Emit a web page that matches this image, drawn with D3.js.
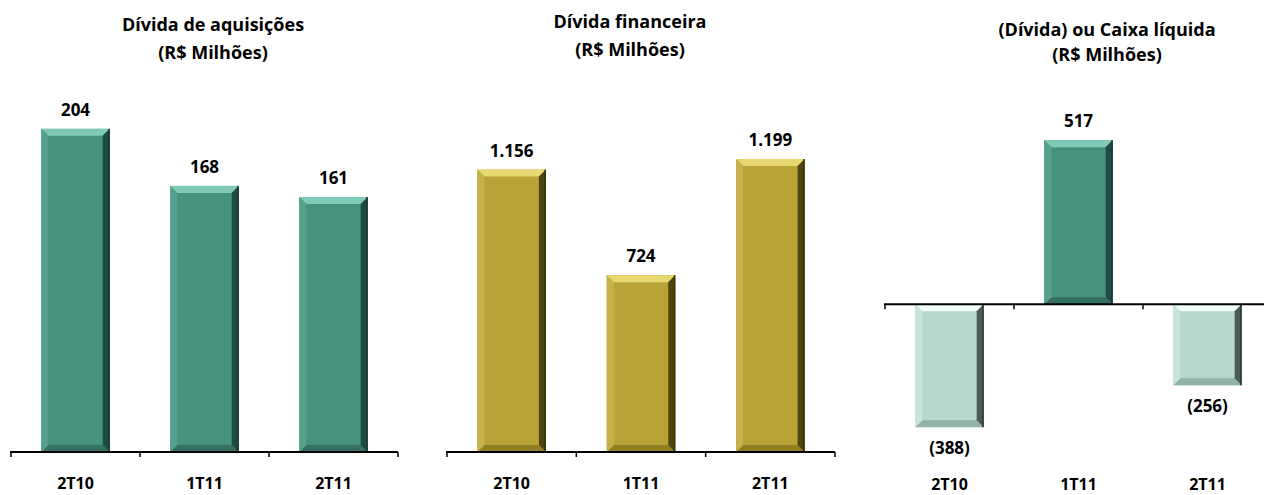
<!DOCTYPE html>
<html>
<head>
<meta charset="utf-8">
<script src="https://cdn.jsdelivr.net/npm/d3@7"></script>
<style>
  body { margin: 0; background: #fff; }
  text { font-family: "Open Sans", "DejaVu Sans", sans-serif; font-weight: bold; fill: #000; }
</style>
</head>
<body>
<div id="container"></div>
<script>
let w = 1264;
let h = 495;

// data
let categories = ["2T10", "1T11", "2T11"];
let acquisitionDebt = [204, 168, 161];
let financialDebt = [1156, 724, 1199];
let netCash = [-388, 517, -256];

let titles = [
  ["Dívida de aquisições", "(R$ Milhões)"],
  ["Dívida financeira", "(R$ Milhões)"],
  ["(Dívida) ou Caixa líquida", "(R$ Milhões)"]
];

let fmtLocale = d3.formatLocale({ decimal: ",", thousands: ".", grouping: [3], currency: ["R$", ""] });
let fmt = fmtLocale.format(",d");
function label(v) {
  return v < 0 ? "(" + fmt(-v) + ")" : fmt(v);
}

let palettes = {
  teal: { main: "#47917f", top: "#80c9b7", left: "#58a08e", right: "#1e4c42", bottom: "#367062", edge: "#163830" },
  gold: { main: "#b9a336", top: "#e8d872", left: "#c6b24a", right: "#4d4412", bottom: "#917f24", edge: "#38310b" },
  mint: { main: "#b6d8ce", top: "#effdf9", left: "#c8e4dc", right: "#4a5c53", bottom: "#91b2a7", edge: "#2c3833" }
};

let viz = d3.select("#container").append("svg")
  .attr("width", w)
  .attr("height", h);

let panels = [
  { values: acquisitionDebt, x0: 11, x1: 398, domain: [0, 250], range: [452, 56],
    title: titles[0], titleX: 213, titleY: [31, 59], catY: 489, color: function(){ return "teal"; } },
  { values: financialDebt, x0: 447, x1: 835, domain: [0, 1400], range: [452, 110],
    title: titles[1], titleX: 630, titleY: [28, 56], catY: 489, color: function(){ return "gold"; } },
  { values: netCash, x0: 885, x1: 1272, domain: [-400, 600], range: [431, 114],
    title: titles[2], titleX: 1107, titleY: [36, 61], catY: 490, color: function(v){ return v < 0 ? "mint" : "teal"; } }
];

function drawBar(g, x, y, bw, bh, pal) {
  let b = Math.min(7, bh / 3);
  let x1 = x + bw, y1 = y + bh;
  let pts = function(a){ return a.map(function(p){ return p.join(","); }).join(" "); };
  g.append("rect").attr("x", x).attr("y", y).attr("width", bw).attr("height", bh).attr("fill", pal.main);
  g.append("polygon").attr("points", pts([[x, y], [x1, y], [x1 - b, y + b], [x + b, y + b]])).attr("fill", pal.top);
  g.append("polygon").attr("points", pts([[x, y1], [x1, y1], [x1 - b, y1 - b], [x + b, y1 - b]])).attr("fill", pal.bottom);
  g.append("polygon").attr("points", pts([[x, y], [x + b, y + b], [x + b, y1 - b], [x, y1]])).attr("fill", pal.left);
  g.append("polygon").attr("points", pts([[x1, y], [x1 - b, y + b], [x1 - b, y1 - b], [x1, y1]])).attr("fill", pal.right);
  g.append("rect").attr("x", x1 - 1.5).attr("y", y).attr("width", 1.5).attr("height", bh).attr("fill", pal.edge);
}

panels.forEach(function(p) {
  let g = viz.append("g").attr("class", "panel");

  let xScale = d3.scaleBand().domain(categories).range([p.x0, p.x1])
    .paddingInner(0.47).paddingOuter(0.235);
  let yScale = d3.scaleLinear().domain(p.domain).range(p.range);
  let zero = yScale(0);

  // title
  p.title.forEach(function(t, i) {
    g.append("text").attr("x", p.titleX).attr("y", p.titleY[i])
      .attr("text-anchor", "middle").style("font-size", "18px").text(t);
  });

  // bars
  p.values.forEach(function(v, i) {
    let c = categories[i];
    let top = Math.min(yScale(v), zero);
    let bh = Math.abs(yScale(v) - zero);
    drawBar(g, xScale(c), top, xScale.bandwidth(), bh, palettes[p.color(v)]);
    let cx = xScale(c) + xScale.bandwidth() / 2;
    g.append("text").attr("x", cx)
      .attr("y", v >= 0 ? yScale(v) - 13 : yScale(v) + 27)
      .attr("text-anchor", "middle").style("font-size", "17px").text(label(v));
  });

  // axis line + ticks
  g.append("line").attr("x1", p.x0 - 1).attr("x2", Math.min(p.x1, w)).attr("y1", zero).attr("y2", zero)
    .attr("stroke", "#000").attr("stroke-width", 2);
  g.append("line").attr("x1", p.x0).attr("x2", p.x0).attr("y1", zero).attr("y2", zero + 5)
    .attr("stroke", "#000").attr("stroke-width", 1.5);
  categories.forEach(function(c, i) {
    let tx = p.x0 + xScale.step() * (i + 1);
    if (tx <= w) {
      g.append("line").attr("x1", tx).attr("x2", tx).attr("y1", zero).attr("y2", zero + 5)
        .attr("stroke", "#000").attr("stroke-width", 1.5);
    }
    g.append("text").attr("x", xScale(c) + xScale.bandwidth() / 2).attr("y", p.catY)
      .attr("text-anchor", "middle").style("font-size", "16px").text(c);
  });
});
</script>
</body>
</html>
